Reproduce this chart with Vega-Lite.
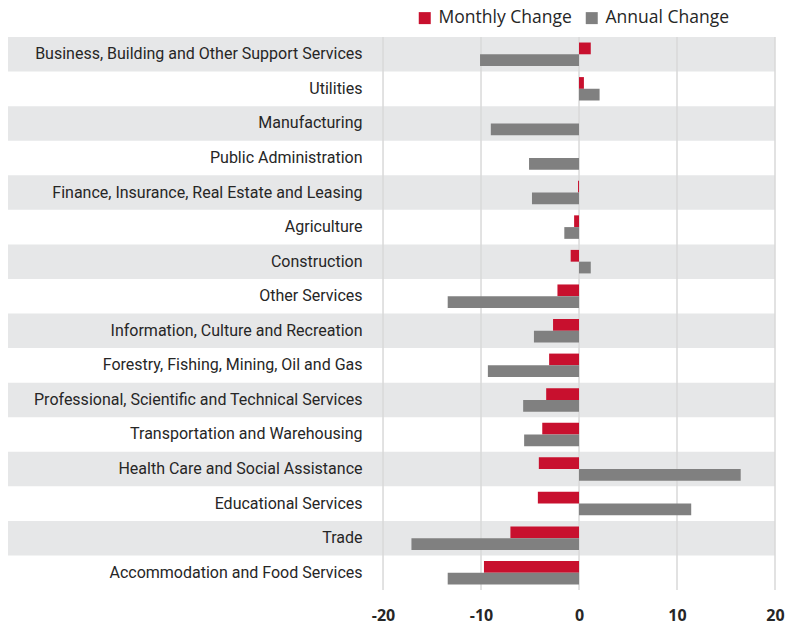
{
  "$schema": "https://vega.github.io/schema/vega-lite/v6.json",
  "width": 767,
  "height": 553,
  "autosize": {"type": "none"},
  "padding": {"left": 8, "top": 37, "right": 13, "bottom": 36},
  "background": "white",
  "config": {
    "view": {"stroke": null},
    "axis": {"grid": false, "domain": false, "ticks": false, "title": null}
  },
  "datasets": {
    "changes": [
      {"industry": "Business, Building and Other Support Services", "series": "Monthly Change", "value": 1.2},
      {"industry": "Business, Building and Other Support Services", "series": "Annual Change", "value": -10.1},
      {"industry": "Utilities", "series": "Monthly Change", "value": 0.5},
      {"industry": "Utilities", "series": "Annual Change", "value": 2.1},
      {"industry": "Manufacturing", "series": "Monthly Change", "value": 0.0},
      {"industry": "Manufacturing", "series": "Annual Change", "value": -9.0},
      {"industry": "Public Administration", "series": "Monthly Change", "value": 0.0},
      {"industry": "Public Administration", "series": "Annual Change", "value": -5.1},
      {"industry": "Finance, Insurance, Real Estate and Leasing", "series": "Monthly Change", "value": -0.1},
      {"industry": "Finance, Insurance, Real Estate and Leasing", "series": "Annual Change", "value": -4.8},
      {"industry": "Agriculture", "series": "Monthly Change", "value": -0.5},
      {"industry": "Agriculture", "series": "Annual Change", "value": -1.5},
      {"industry": "Construction", "series": "Monthly Change", "value": -0.85},
      {"industry": "Construction", "series": "Annual Change", "value": 1.2},
      {"industry": "Other Services", "series": "Monthly Change", "value": -2.2},
      {"industry": "Other Services", "series": "Annual Change", "value": -13.4},
      {"industry": "Information, Culture and Recreation", "series": "Monthly Change", "value": -2.65},
      {"industry": "Information, Culture and Recreation", "series": "Annual Change", "value": -4.6},
      {"industry": "Forestry, Fishing, Mining, Oil and Gas", "series": "Monthly Change", "value": -3.05},
      {"industry": "Forestry, Fishing, Mining, Oil and Gas", "series": "Annual Change", "value": -9.3},
      {"industry": "Professional, Scientific and Technical Services", "series": "Monthly Change", "value": -3.35},
      {"industry": "Professional, Scientific and Technical Services", "series": "Annual Change", "value": -5.7},
      {"industry": "Transportation and Warehousing", "series": "Monthly Change", "value": -3.75},
      {"industry": "Transportation and Warehousing", "series": "Annual Change", "value": -5.6},
      {"industry": "Health Care and Social Assistance", "series": "Monthly Change", "value": -4.1},
      {"industry": "Health Care and Social Assistance", "series": "Annual Change", "value": 16.5},
      {"industry": "Educational Services", "series": "Monthly Change", "value": -4.2},
      {"industry": "Educational Services", "series": "Annual Change", "value": 11.45},
      {"industry": "Trade", "series": "Monthly Change", "value": -7.0},
      {"industry": "Trade", "series": "Annual Change", "value": -17.1},
      {"industry": "Accommodation and Food Services", "series": "Monthly Change", "value": -9.7},
      {"industry": "Accommodation and Food Services", "series": "Annual Change", "value": -13.4}
    ],
    "bands": [
      {"industry": "Business, Building and Other Support Services"},
      {"industry": "Manufacturing"},
      {"industry": "Finance, Insurance, Real Estate and Leasing"},
      {"industry": "Construction"},
      {"industry": "Information, Culture and Recreation"},
      {"industry": "Professional, Scientific and Technical Services"},
      {"industry": "Health Care and Social Assistance"},
      {"industry": "Trade"}
    ],
    "gridticks": [
      {"tick": -20}, {"tick": -10}, {"tick": 0}, {"tick": 10}, {"tick": 20}
    ]
  },
  "layer": [
    {
      "data": {"name": "bands"},
      "mark": {"type": "rect", "color": "#E6E7E8"},
      "encoding": {
        "y": {
          "field": "industry", "type": "nominal",
          "scale": {
            "domain": [
              "Business, Building and Other Support Services", "Utilities", "Manufacturing", "Public Administration",
              "Finance, Insurance, Real Estate and Leasing", "Agriculture", "Construction", "Other Services",
              "Information, Culture and Recreation", "Forestry, Fishing, Mining, Oil and Gas",
              "Professional, Scientific and Technical Services", "Transportation and Warehousing",
              "Health Care and Social Assistance", "Educational Services", "Trade", "Accommodation and Food Services"
            ],
            "paddingInner": 0, "paddingOuter": 0
          },
          "axis": {
            "offset": -375, "labelPadding": 21, "labelFont": "Roboto",
            "labelFontSize": 16, "labelColor": "#262626", "labelLimit": 400
          }
        }
      }
    },
    {
      "data": {"name": "gridticks"},
      "mark": {"type": "rule", "color": "#D9D9D9", "strokeWidth": 1.5},
      "encoding": {
        "x": {
          "field": "tick", "type": "quantitative",
          "scale": {"domain": [-58.27, 20], "nice": false, "zero": false},
          "axis": {
            "values": [-20, -10, 0, 10, 20], "labelExpr": "'' + datum.value", "labelFlush": false,
            "labelFont": "Open Sans", "labelFontWeight": "bold", "labelFontSize": 16,
            "labelColor": "#262626", "labelPadding": 17
          }
        }
      }
    },
    {
      "data": {"name": "changes"},
      "mark": {"type": "bar"},
      "encoding": {
        "y": {
          "field": "industry", "type": "nominal",
          "axis": {
            "offset": -375, "labelPadding": 21, "labelFont": "Roboto",
            "labelFontSize": 16, "labelColor": "#262626", "labelLimit": 400
          }
        },
        "yOffset": {
          "field": "series", "type": "nominal",
          "scale": {"domain": ["Monthly Change", "Annual Change"], "paddingInner": 0, "paddingOuter": 0.47}
        },
        "x": {
          "field": "value", "type": "quantitative",
          "axis": {
            "values": [-20, -10, 0, 10, 20], "labelExpr": "'' + datum.value", "labelFlush": false,
            "labelFont": "Open Sans", "labelFontWeight": "bold", "labelFontSize": 16,
            "labelColor": "#262626", "labelPadding": 17
          }
        },
        "color": {
          "field": "series", "type": "nominal",
          "scale": {"domain": ["Monthly Change", "Annual Change"], "range": ["#C8102E", "#808080"]},
          "legend": {
            "title": null, "orient": "none", "legendX": 408, "legendY": -28, "direction": "horizontal",
            "symbolType": "square", "symbolSize": 144, "symbolStrokeWidth": 0,
            "labelFont": "Open Sans", "labelFontSize": 17.5, "labelColor": "#262626",
            "labelOffset": 5, "columnPadding": 11
          }
        }
      }
    }
  ]
}
